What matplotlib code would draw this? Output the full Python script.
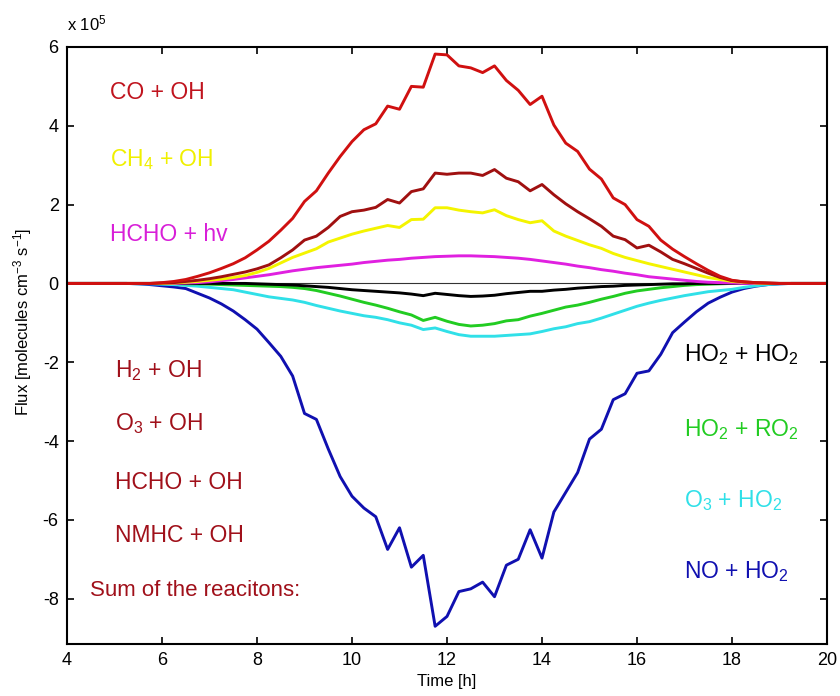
import numpy as np
import matplotlib.pyplot as plt

plt.rcParams['font.family'] = ['Liberation Sans', 'DejaVu Sans']
plt.rcParams['mathtext.default'] = 'regular'
plt.rcParams['axes.unicode_minus'] = False

# time axis, every 15 min
t = np.arange(4, 20.01, 0.25)

# fluxes in units of 1e5 molecules cm-3 s-1
co_oh = [0, 0, 0, 0, 0, 0, 0, 0,
         0.02, 0.05, 0.1, 0.18, 0.27, 0.38, 0.5, 0.65,
         0.85, 1.07, 1.35, 1.65, 2.08, 2.35, 2.8, 3.22,
         3.6, 3.9, 4.05, 4.5, 4.42, 5.0, 4.98, 5.82,
         5.8, 5.52, 5.47, 5.35, 5.52, 5.15, 4.9, 4.54,
         4.75, 4.02, 3.56, 3.35, 2.9, 2.65, 2.17, 2.0,
         1.62, 1.45, 1.1, 0.87, 0.68, 0.5, 0.33, 0.18,
         0.08, 0.04, 0.02, 0.01, 0, 0, 0, 0, 0]
oh_sum = [0, 0, 0, 0, 0, 0, 0, 0,
          0.01, 0.02, 0.05, 0.08, 0.12, 0.17, 0.23, 0.29,
          0.37, 0.47, 0.65, 0.85, 1.1, 1.2, 1.42, 1.7,
          1.82, 1.86, 1.93, 2.13, 2.04, 2.33, 2.4, 2.8,
          2.77, 2.8, 2.8, 2.74, 2.89, 2.67, 2.58, 2.35,
          2.51, 2.25, 2.02, 1.82, 1.64, 1.45, 1.2, 1.11,
          0.9, 0.97, 0.8, 0.61, 0.5, 0.38, 0.26, 0.15,
          0.07, 0.04, 0.02, 0.01, 0, 0, 0, 0, 0]
ch4_oh = [0, 0, 0, 0, 0, 0, 0, 0,
          0, 0.01, 0.03, 0.05, 0.08, 0.11, 0.15, 0.2,
          0.28, 0.38, 0.52, 0.66, 0.77, 0.88, 1.05, 1.15,
          1.25, 1.33, 1.4, 1.47, 1.42, 1.62, 1.63, 1.92,
          1.92, 1.86, 1.82, 1.79, 1.87, 1.72, 1.62, 1.54,
          1.59, 1.33, 1.2, 1.09, 0.98, 0.89, 0.76, 0.66,
          0.58, 0.5, 0.43, 0.36, 0.29, 0.22, 0.15, 0.1,
          0.05, 0.03, 0.01, 0, 0, 0, 0, 0, 0]
hcho_hv = [0, 0, 0, 0, 0, 0, 0, 0,
           0, 0, 0.01, 0.02, 0.04, 0.07, 0.1, 0.14,
           0.18, 0.22, 0.27, 0.32, 0.36, 0.4, 0.43, 0.46,
           0.49, 0.53, 0.56, 0.59, 0.61, 0.64, 0.66, 0.68,
           0.69, 0.7, 0.7, 0.69, 0.68, 0.66, 0.64, 0.61,
           0.57, 0.53, 0.49, 0.44, 0.4, 0.35, 0.31, 0.26,
           0.22, 0.17, 0.14, 0.11, 0.08, 0.05, 0.03, 0.02,
           0.01, 0, 0, 0, 0, 0, 0, 0, 0]
ho2_ho2 = [0, 0, 0, 0, 0, 0, 0, 0,
           0, 0, 0, 0, 0, 0, 0, 0,
           -0.01, -0.02, -0.03, -0.04, -0.06, -0.08, -0.1, -0.13,
           -0.16, -0.18, -0.2, -0.22, -0.24, -0.27, -0.31, -0.25,
           -0.28, -0.31, -0.33, -0.32, -0.3, -0.26, -0.23, -0.2,
           -0.2, -0.17, -0.15, -0.12, -0.1, -0.08, -0.07, -0.05,
           -0.04, -0.03, -0.02, -0.01, -0.01, 0, 0, 0,
           0, 0, 0, 0, 0, 0, 0, 0, 0]
ho2_ro2 = [0, 0, 0, 0, 0, 0, 0, 0,
           0, 0, -0.01, -0.01, -0.02, -0.03, -0.04, -0.05,
           -0.06, -0.07, -0.08, -0.1, -0.13, -0.18, -0.25, -0.32,
           -0.4, -0.48, -0.55, -0.63, -0.72, -0.8, -0.94, -0.86,
           -0.96, -1.04, -1.08, -1.06, -1.02, -0.95, -0.92, -0.83,
           -0.76, -0.68, -0.6, -0.55, -0.48, -0.4, -0.33, -0.25,
           -0.19, -0.15, -0.11, -0.08, -0.05, -0.03, -0.02, -0.01,
           0, 0, 0, 0, 0, 0, 0, 0, 0]
o3_ho2 = [0, 0, 0, 0, 0, 0, -0.01, -0.01,
          -0.02, -0.03, -0.05, -0.07, -0.1, -0.13, -0.16, -0.22,
          -0.28, -0.34, -0.38, -0.42, -0.48, -0.56, -0.63, -0.7,
          -0.76, -0.82, -0.86, -0.92, -1.0, -1.06, -1.17, -1.13,
          -1.22, -1.3, -1.34, -1.34, -1.34, -1.32, -1.3, -1.28,
          -1.22, -1.15, -1.1, -1.02, -0.97, -0.88, -0.78, -0.68,
          -0.58, -0.5, -0.43, -0.37, -0.31, -0.26, -0.21, -0.18,
          -0.15, -0.1, -0.06, -0.03, -0.01, 0, 0, 0, 0]
no_ho2 = [0, 0, 0, 0, 0, 0, -0.01, -0.03,
          -0.06, -0.09, -0.13, -0.25, -0.37, -0.52, -0.7, -0.92,
          -1.16, -1.5, -1.85, -2.35, -3.3, -3.45, -4.2, -4.9,
          -5.4, -5.7, -5.92, -6.75, -6.2, -7.2, -6.9, -8.7,
          -8.45, -7.82, -7.75, -7.58, -7.95, -7.15, -7.0, -6.25,
          -6.97, -5.8, -5.3, -4.8, -3.95, -3.7, -2.95, -2.8,
          -2.28, -2.22, -1.8, -1.25, -0.98, -0.72, -0.5, -0.35,
          -0.22, -0.13, -0.07, -0.03, -0.01, 0, 0, 0, 0]

fig = plt.figure(figsize=(8.4, 6.96), dpi=100)
ax = fig.add_axes([0.0798, 0.0747, 0.9047, 0.8578])

ax.axhline(0, color='#333333', lw=0.8, zorder=1)
ax.plot(t, no_ho2, color='#1010b0', lw=2.1)
ax.plot(t, o3_ho2, color='#30e0e8', lw=2.1)
ax.plot(t, ho2_ro2, color='#22cc22', lw=2.1)
ax.plot(t, ho2_ho2, color='black', lw=2.1)
ax.plot(t, hcho_hv, color='#e020e0', lw=2.1)
ax.plot(t, ch4_oh, color='#f4f400', lw=2.1)
ax.plot(t, oh_sum, color='#a01010', lw=2.1)
ax.plot(t, co_oh, color='#d01010', lw=2.1)

ax.set_xlim(4, 20)
ax.set_ylim(-9.15, 6)
ax.set_xticks(range(4, 21, 2))
ax.set_yticks(range(-8, 7, 2))
ax.tick_params(direction='in', top=True, right=True, length=5, width=1.2,
               labelsize=13, pad=6)
for s in ax.spines.values():
    s.set_linewidth(1.5)

ax.set_xlabel('Time [h]', fontsize=12, labelpad=3)
ax.set_ylabel('Flux [molecules cm$^{-3}$ s$^{-1}$]', fontsize=12)
ax.yaxis.set_label_coords(-0.043, 0.54)
ax.text(0.0, 1.022, 'x 10$^5$', transform=ax.transAxes, fontsize=12, ha='left', va='bottom')

fs = 16.5
ax.text(4.9, 4.85, 'CO + OH', color='#c0141e', fontsize=fs, va='center')
ax.text(4.9, 3.15, 'CH$_4$ + OH', color='#f0f000', fontsize=fs, va='center')
ax.text(4.9, 1.25, 'HCHO + hv', color='#d81fd8', fontsize=fs, va='center')
ax.text(5.0, -2.2, 'H$_2$ + OH', color='#a0101a', fontsize=fs, va='center')
ax.text(5.0, -3.55, 'O$_3$ + OH', color='#a0101a', fontsize=fs, va='center')
ax.text(5.0, -5.05, 'HCHO + OH', color='#a0101a', fontsize=fs, va='center')
ax.text(5.0, -6.4, 'NMHC + OH', color='#a0101a', fontsize=fs, va='center')
ax.text(4.48, -7.8, 'Sum of the reacitons:', color='#a0101a', fontsize=fs - 0.5, va='center')

ax.text(17.0, -1.8, 'HO$_2$ + HO$_2$', color='black', fontsize=fs, va='center')
ax.text(17.0, -3.7, 'HO$_2$ + RO$_2$', color='#22cc22', fontsize=fs, va='center')
ax.text(17.0, -5.5, 'O$_3$ + HO$_2$', color='#30e0e8', fontsize=fs, va='center')
ax.text(17.0, -7.3, 'NO + HO$_2$', color='#1010b0', fontsize=fs, va='center')

fig.savefig('out.png', dpi=100)
